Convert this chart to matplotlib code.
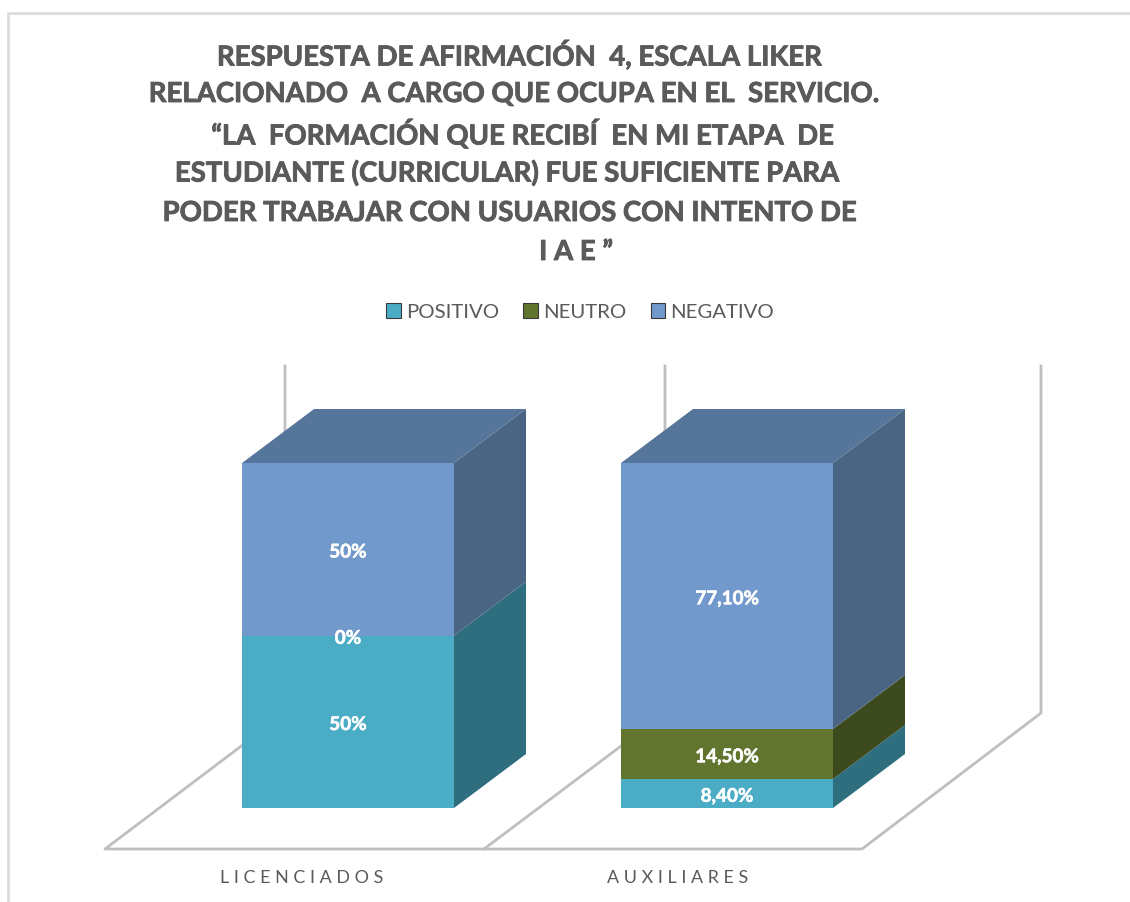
import matplotlib
matplotlib.use("Agg")
import matplotlib.pyplot as plt
from matplotlib.patches import Patch
import matplotlib.patheffects as pe

categories = ["LICENCIADOS", "AUXILIARES"]
axis_labels = ["L I C E N C I A D O S", "A U X I L I A R E S"]
series_names = ["POSITIVO", "NEUTRO", "NEGATIVO"]
positivo = [50, 8.4]
neutro = [0, 14.5]
negativo = [50, 77.1]
label_positivo = ["50%", "8,40%"]
label_neutro = ["0%", "14,50%"]
label_negativo = ["50%", "77,10%"]
title_lines = [
    "RESPUESTA DE AFIRMACIÓN  4, ESCALA LIKER",
    "RELACIONADO  A CARGO QUE OCUPA EN EL  SERVICIO.",
    "“LA  FORMACIÓN QUE RECIBÍ  EN MI ETAPA  DE",
    "ESTUDIANTE (CURRICULAR) FUE SUFICIENTE PARA",
    "PODER TRABAJAR CON USUARIOS CON INTENTO DE",
    "I A E ”",
]
title_x = [519, 513, 522, 507, 509, 576]
title_y = [55, 94, 134, 173, 213, 252]

W, H = 1130, 902
front = ["#4BACC6", "#61752F", "#7199CC"]
side = ["#2F6E7E", "#3D4A1E", "#4A6583"]
top_col = "#55759B"
grey = "#5A5A5A"
wall = "#BFBFBF"

plt.rcParams["font.family"] = ["Lato", "DejaVu Sans"]
fig = plt.figure(figsize=(W / 100, H / 100), dpi=100, facecolor="white")

# background layer in pixel coordinates: chart frame, floor, walls and texts
bg = fig.add_axes([0, 0, 1, 1])
bg.set_xlim(0, W)
bg.set_ylim(H, 0)
bg.axis("off")
bg.plot([8, 8, W], [H, 13, 13], color="#DCDCDC", lw=2, solid_joinstyle="miter")
bg.plot([285, 285, 105, 862, 1041, 1041], [366, 713, 849, 849, 713, 366], color=wall, lw=2)
bg.plot([665, 665, 484], [366, 713, 849], color=wall, lw=2)
for x, y, t in zip(title_x, title_y, title_lines):
    bg.text(x, y, t, ha="center", va="center", fontsize=19.85, fontweight="bold", color=grey,
            path_effects=[pe.withStroke(linewidth=0.6, foreground=grey)])
for x, t in zip([301.5, 678], axis_labels):
    bg.text(x, 878, t, ha="center", va="center", fontsize=12.9, color=grey)

# bar layer: x = category index, y = percent
px_x0, px_step = 348.0, 379.0
px_y0, px_per_unit = 808.0, 3.45
ax = fig.add_axes([0, 0, 1, 1], facecolor="none")
ax.set_xlim((0 - px_x0) / px_step, (W - px_x0) / px_step)
ax.set_ylim((px_y0 - H) / px_per_unit, px_y0 / px_per_unit)
ax.axis("off")

bar_w = 212 / px_step
dx = 72 / px_step
dy = 54 / px_per_unit
xs = range(len(categories))
bottom = [0.0, 0.0]
stack = [positivo, neutro, negativo]
labels = [label_positivo, label_neutro, label_negativo]
for s, (vals, labs) in enumerate(zip(stack, labels)):
    ax.bar(list(xs), vals, bottom=bottom, width=bar_w, color=front[s], linewidth=0, zorder=2)
    for i in xs:
        x1 = i + bar_w / 2
        y0, y1 = bottom[i], bottom[i] + vals[i]
        if vals[i] > 0:
            ax.fill([x1, x1 + dx, x1 + dx, x1], [y0, y0 + dy, y1 + dy, y1],
                    color=side[s], linewidth=0, zorder=2)
        ax.text(i, (y0 + y1) / 2 - 0.8, labs[i], ha="center", va="center",
                color="white", fontsize=13.6, fontweight="bold", zorder=5,
                path_effects=[pe.withStroke(linewidth=0.4, foreground="white")])
    bottom = [b + v for b, v in zip(bottom, vals)]
for i in xs:
    x0, x1 = i - bar_w / 2, i + bar_w / 2
    t = bottom[i]
    ax.fill([x0, x1, x1 + dx, x0 + dx], [t, t, t + dy, t + dy], color=top_col, linewidth=0, zorder=2)

handles = [Patch(facecolor=c, edgecolor="#3A3A3A", linewidth=0.8) for c in front]
leg = bg.legend(handles, series_names, loc="center", bbox_to_anchor=(580 / W, 1 - 312 / H),
                bbox_transform=fig.transFigure, ncol=3, frameon=False, fontsize=14.7,
                handlelength=0.7, handleheight=0.7, handletextpad=0.25, columnspacing=1.2,
                labelcolor=grey)

fig.savefig("out.png", dpi=100, facecolor="white")
